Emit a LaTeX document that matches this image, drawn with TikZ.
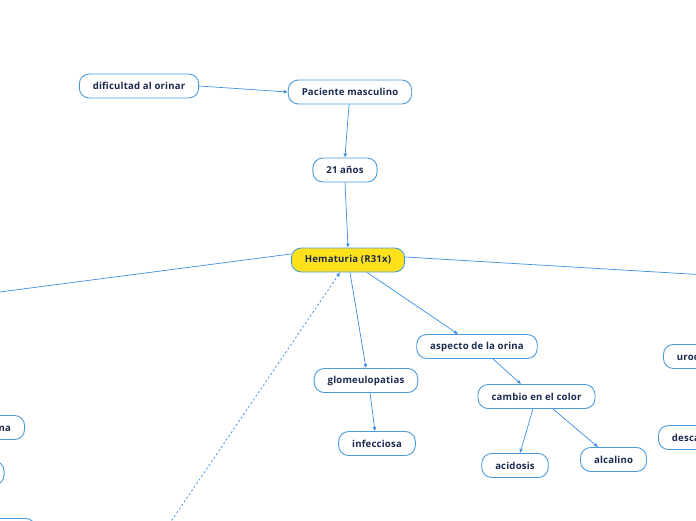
\documentclass[tikz,border=0pt]{standalone}
\usepackage{fontspec}
\setmainfont{Open Sans}[LetterSpace=2]
\usetikzlibrary{arrows.meta}
\definecolor{edgeblue}{HTML}{3D8FE3}
\definecolor{boxblue}{HTML}{4A9BDB}
\definecolor{txt}{HTML}{1B2A4E}
\definecolor{hyellow}{HTML}{FFE21C}
\tikzset{
  x=1pt, y=-1pt,
  topic/.style={draw=boxblue, line width=0.9pt, fill=white, rounded corners=10pt,
    minimum height=24pt, inner xsep=13.5pt, inner ysep=0pt,
    font=\fontsize{9.6}{11}\selectfont\bfseries, text=txt},
  central/.style={topic, fill=hyellow},
  link/.style={draw=edgeblue, line width=0.7pt, -{Latex[length=4pt,width=4pt]}},
  plain/.style={draw=edgeblue, line width=0.7pt},
  dashlink/.style={draw=edgeblue, line width=0.7pt, dash pattern=on 2.2pt off 2.2pt, -{Latex[length=4pt,width=4pt]}}
}
\begin{document}
\begin{tikzpicture}
\useasboundingbox (0,0) rectangle (696,520);
\clip (0,0) rectangle (696,520);
\fill[white] (0,0) rectangle (696,520);

\node[topic] (dif) at (139,86) {dificultad al orinar};
\node[topic] (pac) at (350,92) {Paciente masculino};
\node[topic] (edad) at (345,170) {21 años};
\node[central] (hem) at (348,260) {Hematuria (R31x)};
\node[topic] (glo) at (366,380.5) {glomeulopatias};
\node[topic] (inf) at (377,443.5) {infecciosa};
\node[topic] (asp) at (477,346.5) {aspecto de la orina};
\node[topic] (cam) at (536.5,396.5) {cambio en el color};
\node[topic] (aci) at (515,465.5) {acidosis};
\node[topic] (alc) at (613.5,459.5) {alcalino};
\node[topic, anchor=west] (uro) at (663,356.5) {urocultivo};
\node[topic, anchor=west] (des) at (658,437.5) {descartar};
\node[topic, anchor=east] (lna) at (25,427.5) {creatinina};
\node[topic, anchor=east] (lb) at (4.5,473) {ecografía};
\node[topic, anchor=north east] (lc) at (36,518) {cistoscopia};

\coordinate (offL) at (-100,305);
\coordinate (offR) at (800,280.6);
\coordinate (offD) at (100,626);

\draw[link] (dif.east) -- (pac.west);
\draw[link] (pac.south) ++(-1,0) -- (edad.north);
\draw[link] (edad.south) -- (hem.north);
\draw[link] (hem.south) ++(2,0) -- (glo.north);
\draw[link] (hem.south east) ++(-38,0) -- ([xshift=-19pt]asp.north);
\draw[link] ([xshift=4pt]glo.south) -- ([xshift=-2pt]inf.north);
\draw[link] ([xshift=16pt]asp.south) -- ([xshift=-15.5pt]cam.north);
\draw[link] ([xshift=-3.5pt]cam.south) -- ([xshift=5pt]aci.north);
\draw[link] ([xshift=16.5pt]cam.south) -- ([xshift=-15.5pt]alc.north);
\draw[plain] ([yshift=6pt]hem.west) -- (offL);
\draw[plain] ([yshift=3pt]hem.east) -- (offR);
\draw[dashlink] (offD) -- ([xshift=-8pt]hem.south);
\end{tikzpicture}
\end{document}
